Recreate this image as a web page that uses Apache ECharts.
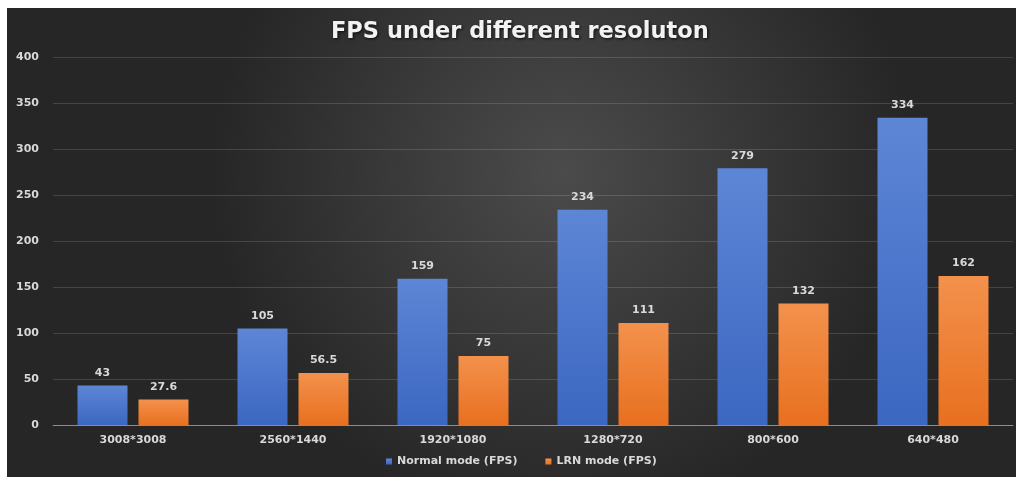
<!DOCTYPE html>
<html>
<head>
<meta charset="utf-8">
<script src="https://cdn.jsdelivr.net/npm/echarts@6/dist/echarts.min.js"></script>
<style>
html,body{margin:0;padding:0;background:#ffffff;}
#chart{width:1016px;height:477px;}
</style>
</head>
<body>
<div id="chart"></div>
<script>
const categories = ['3008*3008', '2560*1440', '1920*1080', '1280*720', '800*600', '640*480'];
const normalFps = [43, 105, 159, 234, 279, 334];
const lrnFps = [27.6, 56.5, 75, 111, 132, 162];
const yTicks = { min: 0, max: 400, interval: 50 };

const FONT = '"DejaVu Sans", Verdana, sans-serif';
const chart = echarts.init(document.getElementById('chart'));
const lbl = { show: true, position: 'top', distance: 7, color: '#d9d9d9', fontWeight: 'bold', fontSize: 11, fontFamily: FONT };
chart.setOption({
  backgroundColor: '#ffffff',
  graphic: [{
    type: 'rect', z: -10, silent: true,
    shape: { x: 7, y: 8, width: 1009, height: 469 },
    style: {
      fill: { type: 'radial', x: 0.55, y: 0.35, r: 0.75, colorStops: [
        { offset: 0, color: '#4b4b4b' }, { offset: 1, color: '#262626' }] }
    }
  }],
  title: {
    text: 'FPS under different resoluton', left: 326, top: 16,
    textStyle: { color: '#f2f2f2', fontSize: 22.5, fontWeight: 'bold', fontFamily: FONT,
      textShadowColor: 'rgba(0,0,0,0.8)', textShadowBlur: 3, textShadowOffsetX: 1, textShadowOffsetY: 1 }
  },
  legend: {
    bottom: 5, left: 381, itemWidth: 6, itemHeight: 6, itemGap: 28, icon: 'rect',
    textStyle: { color: '#d9d9d9', fontWeight: 'bold', fontSize: 11, fontFamily: FONT },
    data: ['Normal mode (FPS)', 'LRN mode (FPS)']
  },
  grid: { left: 53, right: 3, top: 57, bottom: 52, containLabel: false },
  xAxis: {
    type: 'category', data: categories,
    axisLine: { lineStyle: { color: '#8c8c8c', width: 1 } },
    axisTick: { show: false },
    axisLabel: { color: '#d9d9d9', fontWeight: 'bold', fontSize: 11, margin: 10, fontFamily: FONT }
  },
  yAxis: {
    type: 'value', min: yTicks.min, max: yTicks.max, interval: yTicks.interval,
    axisLine: { show: false }, axisTick: { show: false },
    splitLine: { lineStyle: { color: 'rgba(255,255,255,0.14)', width: 1 } },
    axisLabel: { color: '#d9d9d9', fontWeight: 'bold', fontSize: 11, margin: 14, fontFamily: FONT }
  },
  series: [
    { name: 'Normal mode (FPS)', type: 'bar', data: normalFps, barWidth: 50, barGap: '22%',
      itemStyle: { color: { type: 'linear', x: 0, y: 0, x2: 0, y2: 1, colorStops: [
        { offset: 0, color: '#5d86d6' }, { offset: 1, color: '#3c67c1' }] } },
      label: lbl },
    { name: 'LRN mode (FPS)', type: 'bar', data: lrnFps, barWidth: 50,
      itemStyle: { color: { type: 'linear', x: 0, y: 0, x2: 0, y2: 1, colorStops: [
        { offset: 0, color: '#f3914c' }, { offset: 1, color: '#e8701f' }] } },
      label: lbl }
  ]
});
</script>
</body>
</html>
